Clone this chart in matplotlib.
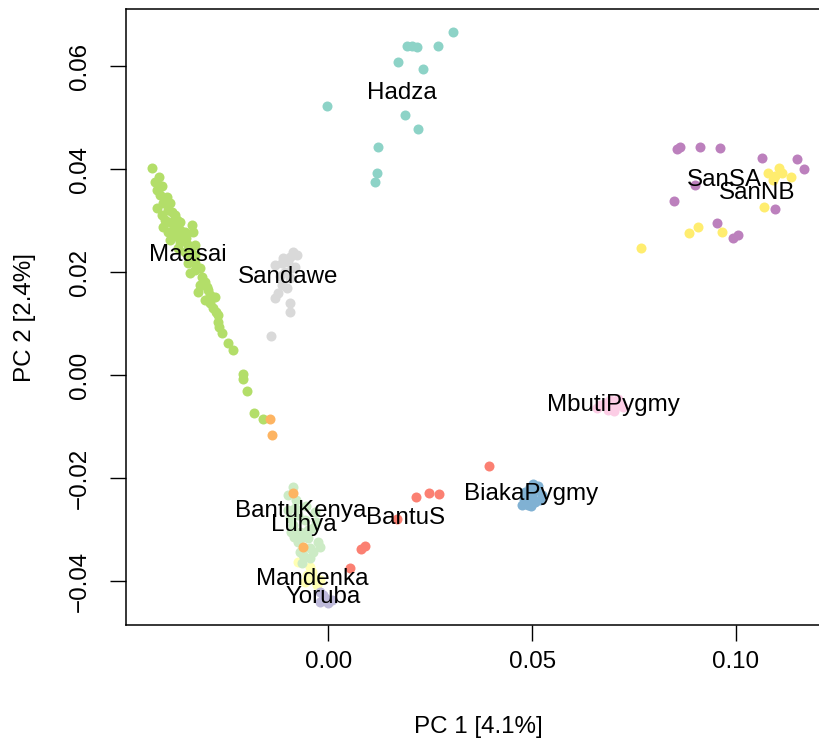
"""PCA des populations africaines : PC1 vs PC2, une couleur par population."""

import matplotlib

matplotlib.use("Agg")
import matplotlib.pyplot as plt

plt.rcParams["font.family"] = ["Liberation Sans", "DejaVu Sans"]

# --- coordonnees (PC1, PC2) par population ---------------------------------
maasai_pc1 = [
    -0.0433, -0.0416, -0.0408, -0.0421, -0.0396, -0.0406, -0.0421, -0.0389,
    -0.0408, -0.0376, -0.0406, -0.0372, -0.0381, -0.0364, -0.0335, -0.0332,
    -0.0369, -0.0357, -0.0327, -0.0340, -0.0327, -0.0345, -0.0327, -0.0315,
    -0.0340, -0.0310, -0.0303, -0.0320, -0.0295, -0.0278, -0.0303, -0.0291,
    -0.0283, -0.0276, -0.0271, -0.0269, -0.0261, -0.0246, -0.0234, -0.0210,
    -0.0210, -0.0200, -0.0183, -0.0161,
    -0.0394, -0.0384, -0.0401, -0.0389, -0.0376, -0.0394, -0.0376, -0.0352,
    -0.0364, -0.0345, -0.0352, -0.0340, -0.0364, -0.0389, -0.0369, -0.0349,
    -0.0327, -0.0315, -0.0298, -0.0291, -0.0271, -0.0413, -0.0425,
]
maasai_pc2 = [
    0.0402, 0.0384, 0.0367, 0.0359, 0.0346, 0.0334, 0.0324, 0.0334,
    0.0311, 0.0311, 0.0287, 0.0301, 0.0282, 0.0282, 0.0291, 0.0278,
    0.0268, 0.0262, 0.0252, 0.0243, 0.0233, 0.0217, 0.0217, 0.0208,
    0.0198, 0.0190, 0.0181, 0.0161, 0.0165, 0.0151, 0.0146, 0.0140,
    0.0130, 0.0122, 0.0103, 0.0093, 0.0082, 0.0062, 0.0049, 0.0002,
    -0.0008, -0.0031, -0.0074, -0.0085,
    0.0320, 0.0317, 0.0301, 0.0297, 0.0291, 0.0278, 0.0272, 0.0278,
    0.0258, 0.0252, 0.0239, 0.0227, 0.0297, 0.0262, 0.0247, 0.0266,
    0.0204, 0.0175, 0.0171, 0.0155, 0.0117, 0.0350, 0.0375,
]

hadza_pc1 = [0.0305, 0.0192, 0.0205, 0.0217, 0.0269, 0.0170, 0.0232,
             -0.0004, 0.0188, 0.0219, 0.0121, 0.0119, 0.0114]
hadza_pc2 = [0.0666, 0.0639, 0.0639, 0.0637, 0.0639, 0.0608, 0.0594,
             0.0522, 0.0505, 0.0478, 0.0443, 0.0392, 0.0375]

sandawe_pc1 = [-0.0087, -0.0112, -0.0094, -0.0131, -0.0114, -0.0099, -0.0090,
               -0.0082, -0.0107, -0.0077, -0.0114, -0.0102, -0.0124, -0.0131,
               -0.0094, -0.0094, -0.0141, -0.0094, -0.0119]
sandawe_pc2 = [0.0239, 0.0227, 0.0229, 0.0214, 0.0217, 0.0219, 0.0208,
               0.0210, 0.0200, 0.0233, 0.0175, 0.0169, 0.0159, 0.0150,
               0.0140, 0.0122, 0.0076, 0.0188, 0.0192]

sansa_pc1 = [0.0855, 0.0862, 0.0911, 0.0962, 0.1065, 0.1149, 0.1168,
             0.0899, 0.0847, 0.0953, 0.0994, 0.1004, 0.1095]
sansa_pc2 = [0.0439, 0.0443, 0.0443, 0.0441, 0.0421, 0.0419, 0.0400,
             0.0369, 0.0338, 0.0295, 0.0266, 0.0272, 0.0322]

sannb_pc1 = [0.1078, 0.1105, 0.1114, 0.1090, 0.1136, 0.1097, 0.1068,
             0.0906, 0.0884, 0.0965, 0.0766]
sannb_pc2 = [0.0392, 0.0402, 0.0392, 0.0379, 0.0384, 0.0386, 0.0326,
             0.0287, 0.0276, 0.0278, 0.0247]

mbuti_pc1 = [0.0659, 0.0666, 0.0678, 0.0690, 0.0695, 0.0703, 0.0710, 0.0715,
             0.0722, 0.0685, 0.0700]
mbuti_pc2 = [-0.0064, -0.0058, -0.0054, -0.0049, -0.0064, -0.0052, -0.0047,
             -0.0058, -0.0062, -0.0068, -0.0070]

biaka_pc1 = [0.0474, 0.0482, 0.0489, 0.0494, 0.0499, 0.0506, 0.0511, 0.0519,
             0.0524, 0.0489, 0.0480, 0.0502, 0.0515, 0.0497]
biaka_pc2 = [-0.0252, -0.0227, -0.0243, -0.0217, -0.0233, -0.0247, -0.0223,
             -0.0243, -0.0233, -0.0252, -0.0240, -0.0212, -0.0215, -0.0255]

bantus_pc1 = [0.0215, 0.0246, 0.0271, 0.0168, 0.0090, 0.0080, 0.0053, 0.0394]
bantus_pc2 = [-0.0237, -0.0229, -0.0231, -0.0280, -0.0332, -0.0338, -0.0375, -0.0177]

luhya_pc1 = [-0.0087, -0.0099, -0.0082, -0.0094, -0.0075, -0.0087, -0.0033,
             -0.0038, -0.0070, -0.0063, -0.0050, -0.0026, -0.0021, -0.0045,
             -0.0070, -0.0063, -0.0045, -0.0065, -0.0038, -0.0058, -0.0080,
             -0.0100, -0.0092, -0.0050, -0.0030, -0.0075, -0.0055, -0.0085]
luhya_pc2 = [-0.0217, -0.0233, -0.0258, -0.0278, -0.0272, -0.0291, -0.0266,
             -0.0297, -0.0305, -0.0315, -0.0317, -0.0324, -0.0334, -0.0336,
             -0.0344, -0.0350, -0.0355, -0.0365, -0.0344, -0.0282, -0.0243,
             -0.0262, -0.0305, -0.0300, -0.0285, -0.0325, -0.0255, -0.0315]

bantukenya_pc1 = [-0.0143, -0.0139, -0.0087, -0.0063]
bantukenya_pc2 = [-0.0085, -0.0117, -0.0229, -0.0334]

mandenka_pc1 = [-0.0075, -0.0045, -0.0040, -0.0053, -0.0038, -0.0058, -0.0028, -0.0021]
mandenka_pc2 = [-0.0363, -0.0373, -0.0383, -0.0388, -0.0394, -0.0402, -0.0408, -0.0398]

yoruba_pc1 = [-0.0021, -0.0009, -0.0021, -0.0001, -0.0013, 0.0009]
yoruba_pc2 = [-0.0421, -0.0433, -0.0441, -0.0443, -0.0427, -0.0437]

# etiquettes placees au centre de chaque population
label_names = ["Hadza", "Maasai", "Sandawe", "SanSA", "SanNB", "MbutiPygmy",
               "BiakaPygmy", "BantuKenya", "Luhya", "BantuS", "Mandenka", "Yoruba"]
label_pc1 = [0.0181, -0.0345, -0.0098, 0.0972, 0.1051, 0.0699,
             0.0498, -0.0067, -0.0060, 0.0190, -0.0039, -0.0012]
label_pc2 = [0.0548, 0.0233, 0.0190, 0.0379, 0.0353, -0.0058,
             -0.0231, -0.0264, -0.0291, -0.0278, -0.0396, -0.0431]

# palette Set3 (RColorBrewer), ordre de trace
groups = [
    (maasai_pc1, maasai_pc2, "#B3DE69"),
    (hadza_pc1, hadza_pc2, "#8DD3C7"),
    (sandawe_pc1, sandawe_pc2, "#D9D9D9"),
    (sansa_pc1, sansa_pc2, "#BC80BD"),
    (sannb_pc1, sannb_pc2, "#FFED6F"),
    (mbuti_pc1, mbuti_pc2, "#FCCDE5"),
    (biaka_pc1, biaka_pc2, "#80B1D3"),
    (bantus_pc1, bantus_pc2, "#FB8072"),
    (mandenka_pc1, mandenka_pc2, "#FFFFB3"),
    (luhya_pc1, luhya_pc2, "#CCEBC5"),
    (bantukenya_pc1, bantukenya_pc2, "#FDB462"),
    (yoruba_pc1, yoruba_pc2, "#BEBADA"),
]

FS = 17.4

fig = plt.figure(figsize=(8.2, 7.5), dpi=100)
ax = fig.add_axes([126 / 820, 125 / 750, 704 / 820, 616 / 750])

for pc1, pc2, color in groups:
    ax.scatter(pc1, pc2, s=52, color=color, linewidths=0, zorder=2)

for name, x, y in zip(label_names, label_pc1, label_pc2):
    ax.text(x, y, name, ha="center", va="center", fontsize=FS, color="black", zorder=3)

ax.set_xlim(-0.0497, 0.1231)
ax.set_ylim(-0.04854, 0.07107)
ax.set_xticks([0.0, 0.05, 0.10])
ax.set_xticklabels(["0.00", "0.05", "0.10"])
ax.set_yticks([-0.04, -0.02, 0.0, 0.02, 0.04, 0.06])
ax.set_yticklabels(["\u22120.04", "\u22120.02", "0.00", "0.02", "0.04", "0.06"])

ax.tick_params(axis="both", direction="out", length=11.5, width=1.0, labelsize=FS)
ax.tick_params(axis="x", pad=7)
ax.tick_params(axis="y", pad=14, labelrotation=90)
for t in ax.get_yticklabels():
    t.set_va("center")

for side in ax.spines.values():
    side.set_linewidth(1.1)

ax.set_xlabel("PC 1 [4.1%]", fontsize=FS, va="center")
ax.xaxis.set_label_coords(0.5, -(727 - 625) / 616)
ax.set_ylabel("PC 2 [2.4%]", fontsize=FS, va="center")
ax.yaxis.set_label_coords(-(126 - 25) / 704, 0.5)

fig.savefig("out.png", dpi=100)
